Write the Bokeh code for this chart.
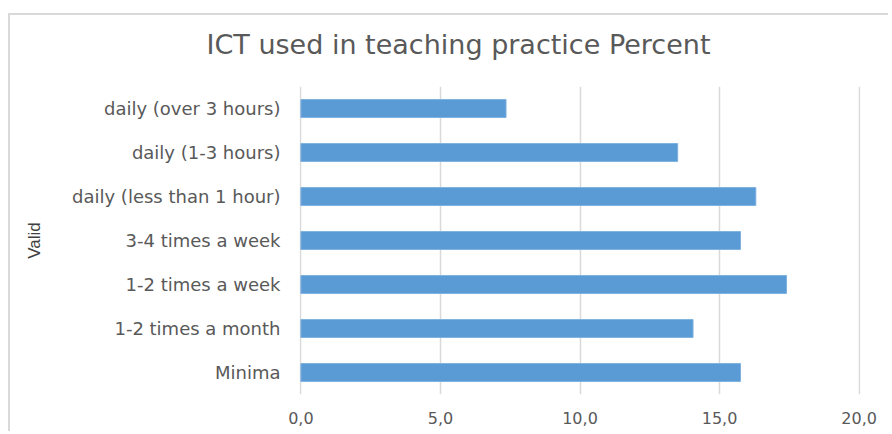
from bokeh.plotting import figure
from bokeh.models import FactorRange, Range1d, FixedTicker, Title, CustomJSTickFormatter
from bokeh.embed import file_html
from bokeh.resources import INLINE

categories = ["Minima", "1-2 times a month", "1-2 times a week", "3-4 times a week",
              "daily (less than 1 hour)", "daily (1-3 hours)", "daily (over 3 hours)"]
percent = [15.75, 14.05, 17.4, 15.75, 16.3, 13.5, 7.35]
x_ticks = [0, 5, 10, 15, 20]
x_tick_labels = ["0,0", "5,0", "10,0", "15,0", "20,0"]
title_text = "ICT used in teaching practice Percent"

FONT = "DejaVu Sans"
GREY = "#595959"
FRAME = "#d9d9d9"

p = figure(width=880, height=428, output_backend="svg", toolbar_location=None,
           y_range=FactorRange(*categories, range_padding=0.0),
           x_range=Range1d(-0.05, 20.05),
           min_border_left=291, min_border_right=28, min_border_top=82, min_border_bottom=37)
p.margin = (3, 0, 0, 8)
p.styles = {
    "background-image": f"linear-gradient({FRAME}, {FRAME}), linear-gradient({FRAME}, {FRAME})",
    "background-size": "100% 2px, 2px 100%",
    "background-position": "0 10px, 0 10px",
    "background-repeat": "no-repeat",
}

p.hbar(y=categories, right=percent, left=0, height=0.41, color="#5b9bd5",
       line_color="#7fb2e0", line_width=1)

t = Title(text=title_text, align="left", offset=-93, vertical_align="top",
          text_font=FONT, text_font_size="27px", text_font_style="normal",
          text_color=GREY, standoff=50)
p.add_layout(t, "above")

p.outline_line_color = None
p.background_fill_color = "white"
p.border_fill_color = None

p.xaxis.ticker = FixedTicker(ticks=x_ticks)
p.xaxis.formatter = CustomJSTickFormatter(
    args=dict(tvals=x_ticks, tlabels=x_tick_labels),
    code="const i = tvals.indexOf(tick); return i >= 0 ? tlabels[i] : '';")
p.xaxis.axis_line_color = None
p.xaxis.major_tick_line_color = None
p.xaxis.minor_tick_line_color = None
p.xaxis.major_label_standoff = 11
p.xaxis.major_label_text_font = FONT
p.xaxis.major_label_text_font_size = "16px"
p.xaxis.major_label_text_color = GREY

p.yaxis.axis_line_color = None
p.yaxis.major_tick_line_color = None
p.yaxis.minor_tick_line_color = None
p.yaxis.major_label_standoff = 13
p.yaxis.major_label_text_font = FONT
p.yaxis.major_label_text_font_size = "18px"
p.yaxis.major_label_text_color = GREY
p.yaxis.axis_label = "Valid"
p.yaxis.axis_label_text_font = "Liberation Sans"
p.yaxis.axis_label_text_font_size = "17px"
p.yaxis.axis_label_text_font_style = "normal"
p.yaxis.axis_label_text_color = "#404040"
p.yaxis.axis_label_standoff = 25

p.xgrid.grid_line_color = "#d9d9d9"
p.xgrid.grid_line_width = 1.5
p.ygrid.grid_line_color = None

open("out.html", "w").write(file_html(p, INLINE))
